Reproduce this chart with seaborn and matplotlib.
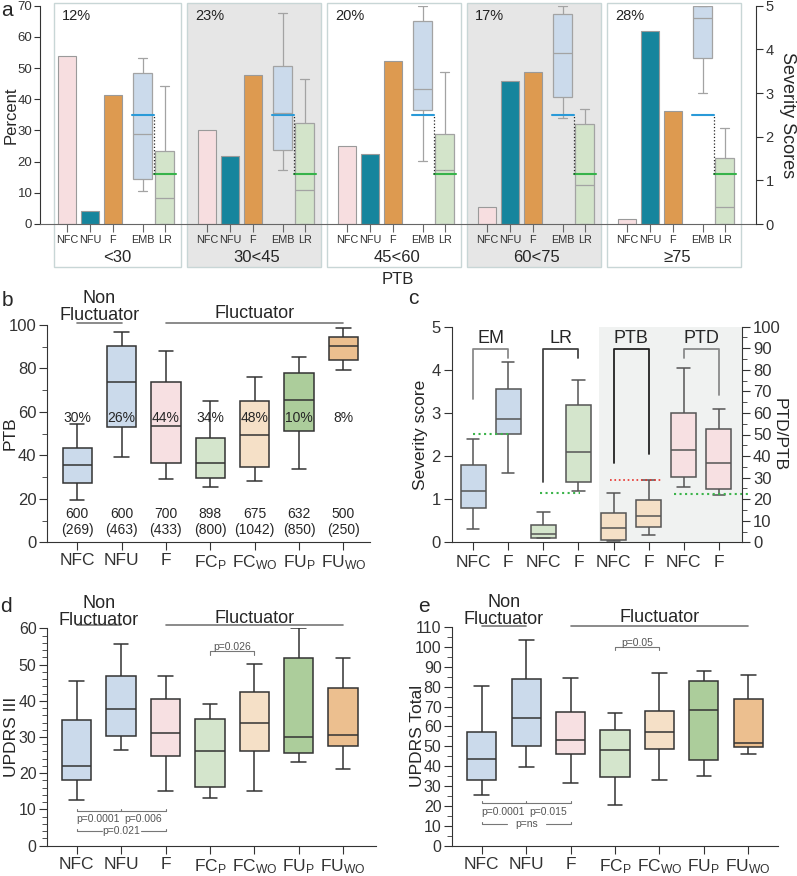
import numpy as np
import pandas as pd
import seaborn as sns
import matplotlib.pyplot as plt
from matplotlib.patches import Rectangle
from matplotlib.ticker import MultipleLocator

W, H = 797, 876

# ---------------- panel a : PTB bins ----------------
a_groups = ["<30", "30<45", "45<60", "60<75", "≥75"]
a_group_pct = ["12%", "23%", "20%", "17%", "28%"]
a_nfc = [54.0, 30.3, 24.9, 5.6, 1.6]
a_nfu = [4.1, 21.7, 22.4, 45.7, 62.0]
a_f = [41.5, 47.7, 52.4, 48.6, 36.2]
# five number summaries: low whisker, q1, median, q3, high whisker (severity scale)
a_emb = [[0.75, 1.04, 2.05, 3.45, 3.80],
         [1.24, 1.70, 2.55, 3.62, 4.83],
         [1.44, 2.62, 3.10, 4.64, 5.00],
         [2.42, 2.90, 3.91, 4.80, 5.00],
         [3.00, 3.81, 4.71, 5.00, 5.00]]
a_lr = [[0.0, 0.0, 0.60, 1.67, 3.15],
        [0.0, 0.0, 0.79, 2.32, 3.33],
        [0.0, 0.0, 1.24, 2.07, 3.47],
        [0.0, 0.0, 0.90, 2.30, 2.64],
        [0.0, 0.0, 0.40, 1.52, 2.21]]
a_emb_ref = 2.5
a_lr_ref = 1.15

# ---------------- panels b, d, e ----------------
cats7 = ["NFC", "NFU", "F", "FC$_{P}$", "FC$_{WO}$", "FU$_{P}$", "FU$_{WO}$"]
b_ptb = [[19.5, 27.1, 35.4, 43.3, 54.3],
         [39.1, 52.9, 73.8, 90.5, 96.9],
         [29.1, 36.3, 53.4, 73.8, 88.0],
         [25.6, 29.8, 36.3, 47.9, 64.9],
         [28.4, 34.5, 49.2, 65.0, 76.1],
         [33.7, 51.1, 65.3, 77.9, 85.1],
         [79.1, 83.9, 90.3, 94.6, 98.5]]
b_pct = ["30%", "26%", "44%", "34%", "48%", "10%", "8%"]
b_n = [600, 600, 700, 898, 675, 632, 500]
b_n2 = [269, 463, 433, 800, 1042, 850, 250]

d_updrs3 = [[12.6, 18.1, 22.1, 34.8, 45.5],
            [26.3, 30.4, 37.6, 46.9, 55.6],
            [15.0, 24.7, 31.0, 40.4, 46.9],
            [13.1, 16.1, 26.0, 35.0, 39.0],
            [15.2, 26.0, 34.0, 42.5, 50.1],
            [23.0, 25.7, 30.1, 51.9, 60.0],
            [21.1, 27.4, 30.6, 43.4, 51.9]]
d_p_top = "p=0.026"
d_p_bottom = ["p=0.0001", "p=0.006", "p=0.021"]

e_total = [[25.3, 32.9, 43.4, 57.3, 80.3],
           [39.6, 50.0, 64.1, 83.7, 103.3],
           [31.7, 46.1, 53.2, 67.1, 84.2],
           [20.5, 34.5, 48.0, 58.0, 66.9],
           [33.0, 48.5, 57.0, 67.9, 87.0],
           [35.2, 42.9, 68.1, 83.0, 87.9],
           [45.9, 49.6, 51.5, 73.8, 85.8]]
e_p_top = "p=0.05"
e_p_bottom = ["p=0.0001", "p=0.015", "p=ns"]

# ---------------- panel c ----------------
c_measures = ["EM", "LR", "PTB", "PTD"]
c_em = [[0.31, 0.80, 1.20, 1.79, 2.39], [1.61, 2.50, 2.85, 3.55, 4.17]]
c_lr = [[0.09, 0.09, 0.20, 0.39, 0.71], [1.19, 1.40, 2.09, 3.19, 3.76]]
c_ptb = [[0.6, 1.2, 6.6, 13.4, 22.7], [3.2, 7.1, 12.1, 19.5, 28.9]]
c_ptd = [[25.7, 30.3, 42.7, 60.0, 81.0], [21.9, 24.7, 36.8, 52.7, 61.8]]
c_ref_em = 2.5
c_ref_lr = 1.15
c_ref_ptb = 28.7
c_ref_ptd = 22.2

# colours
BLUE = "#c6d9f0"
PINK = "#fbdcdf"
LGREEN = "#d2e9c8"
PEACH = "#fde0bf"
GREEN = "#a9d593"
ORANGE = "#fbbf80"
pal7 = dict(zip(cats7, [BLUE, BLUE, PINK, LGREEN, PEACH, GREEN, ORANGE]))

sns.set_style("ticks")
plt.rcParams["font.family"] = ["Liberation Sans", "DejaVu Sans"]
plt.rcParams["mathtext.default"] = "regular"
plt.rcParams["axes.edgecolor"] = "#333333"
plt.rcParams["xtick.color"] = "#333333"
plt.rcParams["ytick.color"] = "#333333"

fig = plt.figure(figsize=(W / 100, H / 100), dpi=100)


def px_axes(x0, y0, x1, y1):
    return fig.add_axes([x0 / W, 1 - y1 / H, (x1 - x0) / W, (y1 - y0) / H])


def long_frame(labels, summaries):
    rows = []
    for lab, five in zip(labels, summaries):
        for v in five:
            rows.append({"group": lab, "value": v})
    return pd.DataFrame(rows)


def fluct_labels(ax, y_line, y_non, y_fl):
    ax.plot([0, 1], [y_line, y_line], color="#777777", lw=1.2, clip_on=False)
    ax.plot([2, 6], [y_line, y_line], color="#777777", lw=1.2, clip_on=False)
    ax.text(0.5, y_non, "Non\nFluctuator", ha="center", va="center", fontsize=13,
            linespacing=0.98)
    ax.text(4, y_fl, "Fluctuator", ha="center", va="center", fontsize=13)


def pvalues(ax, top_txt, bottom_txt, y_top, tick_top, y_b1, y_b1txt, y_b2, tick_b):
    kw = dict(color="#777777", lw=0.8, clip_on=False)
    ax.plot([3, 3, 4, 4], [y_top - tick_top, y_top, y_top, y_top - tick_top], **kw)
    ax.text(3.5, y_top + tick_top * 1.3, top_txt, ha="center", va="center",
            fontsize=7.5, color="#555555")
    ax.plot([0, 2], [y_b1, y_b1], **kw)
    for x in [0, 1, 2]:
        ax.plot([x, x], [y_b1, y_b1 + tick_b], **kw)
    ax.text(0.48, y_b1txt, bottom_txt[0], ha="center", va="center", fontsize=7.5, color="#555555")
    ax.text(1.5, y_b1txt, bottom_txt[1], ha="center", va="center", fontsize=7.5, color="#555555")
    ax.plot([0, 0, 0.56], [y_b2 + tick_b, y_b2, y_b2], **kw)
    ax.plot([1.44, 2, 2], [y_b2, y_b2, y_b2 + tick_b], **kw)
    ax.text(1.0, y_b2, bottom_txt[2], ha="center", va="center", fontsize=7.5, color="#555555")


def seven_box(ax, summaries, ylim, major, minor, ylabel, label_x, ytick_size=12):
    df = long_frame(cats7, summaries)
    sns.boxplot(data=df, x="group", y="value", hue="group", order=cats7, palette=pal7,
                width=0.66, whis=(0, 100), linecolor="#333333", linewidth=1.1,
                showfliers=False, legend=False, ax=ax)
    ax.set_ylim(*ylim)
    ax.yaxis.set_major_locator(MultipleLocator(major))
    ax.yaxis.set_minor_locator(MultipleLocator(minor))
    ax.set_xlabel("")
    ax.set_ylabel(ylabel, fontsize=12.5)
    ax.yaxis.set_label_coords(label_x, 0.5)
    ax.tick_params(axis="both", which="major", length=5.5, pad=2, labelsize=ytick_size)
    ax.tick_params(axis="y", which="minor", length=3.5)
    ax.tick_params(axis="x", labelsize=12.5, pad=2.5)
    sns.despine(ax=ax)


# ======================= panel a =======================
ax = px_axes(40, 5.7, 756, 224)
step = 6.087
offs = {"NFC": 0.0, "NFU": 1.0, "F": 2.0, "EMB": 3.29, "LR": 4.25}
bar_rows = []
box_rows = []
for g in range(len(a_groups)):
    for kind, vals in zip(["NFC", "NFU", "F"], [a_nfc, a_nfu, a_f]):
        bar_rows.append({"x": g * step + offs[kind], "kind": kind, "pct": vals[g]})
    for kind, vals in zip(["EMB", "LR"], [a_emb, a_lr]):
        for v in vals[g]:
            box_rows.append({"x": g * step + offs[kind], "kind": kind, "sev": v})
bars = pd.DataFrame(bar_rows)
boxes = pd.DataFrame(box_rows)

for g in range(len(a_groups)):
    left = g * step - (0.57 if g == 0 else 0.87)
    right = g * step + offs["LR"] + 0.72
    ax.add_patch(Rectangle((left, -13.8), right - left, 84.8, clip_on=False, zorder=0,
                           facecolor="#e6e6e6" if g % 2 else "white",
                           edgecolor="#c8d6d6", lw=1.0))
    ax.text(left + 0.35, 66.8, a_group_pct[g], ha="left", va="center", fontsize=10.5, color="#222222")
    ax.text(g * step + 2.17, -10.9, a_groups[g], ha="center", va="center", fontsize=12)

sns.barplot(data=bars, x="x", y="pct", hue="kind", native_scale=True, dodge=False,
            palette={"NFC": "#fbdadd", "NFU": "#0094b3", "F": "#f59b38"},
            width=0.8, errorbar=None, edgecolor="#9a9a9a", linewidth=0.8,
            legend=False, ax=ax, zorder=2)
ax.set_ylim(0, 70)
ax.set_xlim(-1.17, 29.96)
ax.yaxis.set_major_locator(MultipleLocator(10))
ax.set_ylabel("Percent", fontsize=12)
ax.yaxis.set_label_coords(-0.0295, 0.5)
ax.set_xlabel("")
ax.text(0.5, -0.2565, "PTB", transform=ax.transAxes, ha="center", va="center", fontsize=12)

ax2 = ax.twinx()
sns.boxplot(data=boxes, x="x", y="sev", hue="kind", native_scale=True, dodge=False,
            palette={"EMB": "#c6daf0", "LR": "#d1e8c6"}, width=0.84, whis=(0, 100),
            linecolor="#a3a3a3", linewidth=0.9, showfliers=False, legend=False, ax=ax2)
for g in range(len(a_groups)):
    xe = g * step + offs["EMB"]
    xl = g * step + offs["LR"]
    ax2.plot([xe - 0.45, xe + 0.5], [a_emb_ref, a_emb_ref], color="#2a9ad8", lw=1.5)
    ax2.plot([xl - 0.46, xl + 0.5], [a_lr_ref, a_lr_ref], color="#37b34a", lw=1.5)
    ax2.plot([xe + 0.5, xe + 0.5], [a_lr_ref, a_emb_ref], color="#222222", lw=0.9, ls=":")
ax2.set_ylim(0, 5)
ax2.set_xlim(-1.17, 29.96)
ax2.set_ylabel("Severity Scores", fontsize=13, rotation=270, labelpad=16)
ax2.set_xlabel("")

ticks = sorted(g * step + o for g in range(len(a_groups)) for o in offs.values())
ax.set_xticks(ticks)
ax.set_xticklabels(["NFC", "NFU", "F", "EMB", "LR"] * len(a_groups))
ax.tick_params(axis="x", length=6, pad=2, labelsize=7.8, color="#666666")
ax.tick_params(axis="y", length=4, pad=1.5, labelsize=9.5)
ax2.tick_params(axis="y", length=5, pad=2, labelsize=10.5)
for s in ["top", "right"]:
    ax.spines[s].set_visible(False)
for s in ["top", "left", "bottom"]:
    ax2.spines[s].set_visible(False)
ax.spines["bottom"].set_color("#666666")

# ======================= panel b =======================
ax = px_axes(47, 325, 370, 542.3)
seven_box(ax, b_ptb, (0, 100), 20, 10, "PTB", -0.09)
ax.set_xlim(-0.68, 6.6)
for i in range(len(cats7)):
    ax.text(i, 57.1, b_pct[i], ha="center", va="center", fontsize=10)
    ax.text(i, 9.3, f"{b_n[i]}\n({b_n2[i]})", ha="center", va="center", fontsize=10,
            linespacing=1.15)
fluct_labels(ax, 101.0, 108.3, 105.3)

# ======================= panel c =======================
c_order = [f"{m} {k}" for m in c_measures for k in ["NFC", "F"]]
pal_c = dict(zip(c_order, [BLUE, BLUE, LGREEN, LGREEN, PEACH, PEACH, PINK, PINK]))
left_df = long_frame(c_order[:4], c_em + c_lr)
right_df = long_frame(c_order[4:], c_ptb + c_ptd)

ax = px_axes(452, 326.7, 742, 542.3)
ax.axvspan(3.59, 7.7, color="#f0f2f1", zorder=0, lw=0)
sns.boxplot(data=left_df, x="group", y="value", hue="group", order=c_order, palette=pal_c,
            width=0.71, whis=(0, 100), linecolor="#555555", linewidth=1.1,
            showfliers=False, legend=False, ax=ax)
ax2 = ax.twinx()
sns.boxplot(data=right_df, x="group", y="value", hue="group", order=c_order, palette=pal_c,
            width=0.71, whis=(0, 100), linecolor="#555555", linewidth=1.1,
            showfliers=False, legend=False, ax=ax2)
ax.set_xlim(-0.6, 7.66)
ax.set_ylim(0, 5)
ax2.set_ylim(0, 100)
ax.yaxis.set_major_locator(MultipleLocator(1))
ax2.yaxis.set_major_locator(MultipleLocator(10))
ax2.yaxis.set_minor_locator(MultipleLocator(5))
ax.set_xticks(range(8))
ax.set_xticklabels(["NFC", "F"] * 4)
ax.set_xlabel("")
ax2.set_xlabel("")
ax.set_ylabel("Severity score", fontsize=12.5)
ax.yaxis.set_label_coords(-0.083, 0.5)
ax2.set_ylabel("PTD/PTB", fontsize=12.5, rotation=270, labelpad=4)
ax.tick_params(axis="both", length=6, pad=2, labelsize=12)
ax.tick_params(axis="x", labelsize=12.5, pad=3)
ax2.tick_params(axis="y", which="major", length=6, pad=2, labelsize=12)
ax2.tick_params(axis="y", which="minor", length=3.5)
for s in ["top", "right"]:
    ax.spines[s].set_visible(False)
for s in ["top", "left", "bottom"]:
    ax2.spines[s].set_visible(False)

# reference dotted lines
ax.plot([0, 1.05], [c_ref_em, c_ref_em], ls=":", color="#3cb44b", lw=1.5)
ax.plot([1.9, 3.05], [c_ref_lr, c_ref_lr], ls=":", color="#3cb44b", lw=1.5)
ax2.plot([3.9, 5.4], [c_ref_ptb, c_ref_ptb], ls=":", color="#e8302a", lw=1.2)
ax2.plot([5.73, 7.9], [c_ref_ptd, c_ref_ptd], ls=":", color="#3cb44b", lw=1.5, clip_on=False)

# brackets
bracket_legs = [(3.32, 4.28, "#8a8a8a"), (1.39, 4.28, "#444444"),
                (1.85, 2.04, "#222222"), (4.28, 3.42, "#8a8a8a")]
for i, (m, (l0, l1, col)) in enumerate(zip(c_measures, bracket_legs)):
    x0, x1 = 2 * i, 2 * i + 1
    ax.plot([x0, x0, x1, x1], [l0, 4.48, 4.48, l1], color=col, lw=1.3, zorder=3)
    ax.text(x0 + 0.5, 4.72, m, ha="center", va="center", fontsize=13)

# ======================= panel d =======================
ax = px_axes(47, 628.3, 376, 845.7)
seven_box(ax, d_updrs3, (0, 60), 10, 2, "UPDRS III", -0.084, ytick_size=11.5)
ax.set_xlim(-0.67, 6.74)
fluct_labels(ax, 60.9, 64.6, 62.8)
pvalues(ax, d_p_top, d_p_bottom, 53.6, 0.9, 9.66, 7.45, 4.14, 0.6)

# ======================= panel e =======================
ax = px_axes(452, 627, 778, 845.7)
seven_box(ax, e_total, (0, 110), 10, 5, "UPDRS Total", -0.083, ytick_size=11.5)
ax.set_xlim(-0.67, 6.67)
fluct_labels(ax, 110.7, 118.0, 114.6)
pvalues(ax, e_p_top, e_p_bottom, 100.1, 1.6, 21.3, 16.9, 10.7, 1.1)

# panel letters
for letter, (x, y) in zip("abcde", [(7, 11), (7, 300), (413, 298), (6, 607), (424, 606)]):
    fig.text(x / W, 1 - y / H, letter, fontsize=15, ha="center", va="center")

fig.savefig("out.png", dpi=100)
